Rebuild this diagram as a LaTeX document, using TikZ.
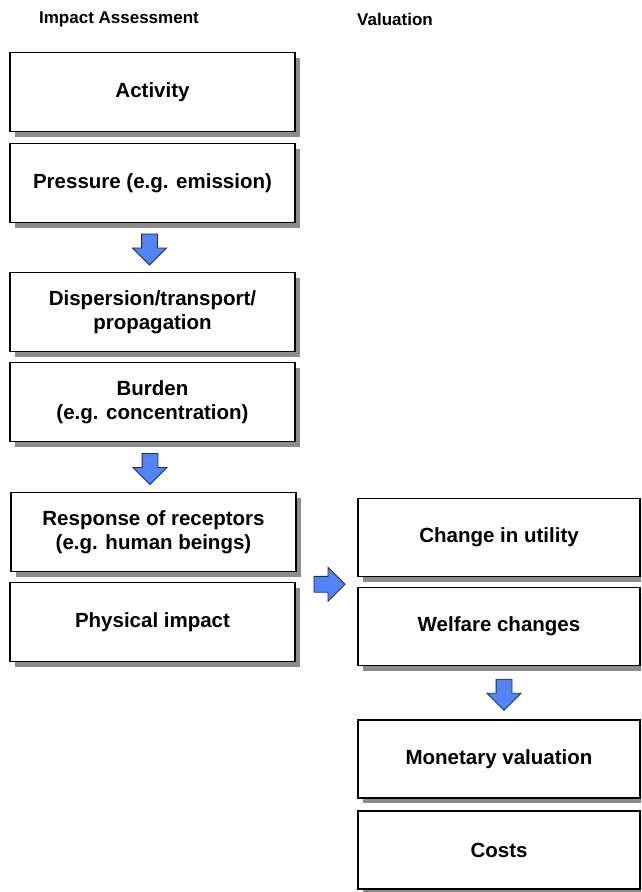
\documentclass[tikz,border=0pt]{standalone}
\usepackage{fontspec}
\setmainfont{Liberation Sans}
\usetikzlibrary{shapes.arrows, shadows, calc}

\definecolor{arrowblue}{RGB}{82,132,245}
\definecolor{arrowedge}{RGB}{30,40,90}

\tikzset{
  stage/.style={draw, line width=1.5pt, fill=white, align=center, inner sep=0pt,
    font=\fontsize{20.5}{24}\selectfont\bfseries,
    drop shadow={shadow xshift=5pt, shadow yshift=-5pt, fill=black!45, opacity=1}},
  leftstage/.style={stage, minimum width=285pt, minimum height=79pt},
  rightstage/.style={stage, minimum width=282pt, minimum height=78pt},
  heading/.style={font=\fontsize{17}{20}\selectfont\bfseries},
  flow/.style={single arrow, draw=arrowedge, fill=arrowblue, line width=0.8pt,
    minimum height=31pt, inner xsep=0pt, inner ysep=7.5pt, single arrow head extend=9pt}
}

\begin{document}
\begin{tikzpicture}[x=1pt, y=1pt]
    \clip (0,0) rectangle (641,-892);

    % Headings
    \node[heading] (impacthead) at (119,-19) {Impact Assessment};
    \node[heading] (valuehead) at (395,-19) {Valuation};

    % Impact assessment chain
    \node[leftstage] (activity) at (152.5,-92) {Activity};
    \node[leftstage] (pressure) at (152.5,-183) {Pressure (e.g. emission)};
    \node[leftstage] (dispersion) at (152.5,-312) {Dispersion/transport/\\propagation};
    \node[leftstage] (burden) at (152.5,-402) {Burden\\(e.g. concentration)};
    \node[leftstage] (response) at (153.5,-532) {Response of receptors\\(e.g. human beings)};
    \node[leftstage] (physical) at (152.5,-622) {Physical impact};

    % Valuation chain
    \node[rightstage] (utility) at (499,-537.5) {Change in utility};
    \node[rightstage] (welfare) at (499,-626.5) {Welfare changes};
    \node[rightstage] (monetary) at (499,-759) {Monetary valuation};
    \node[rightstage] (costs) at (499,-850) {Costs};

    % Block arrows
    \node[flow, rotate=-90] (flowa) at ($(pressure.south)!0.5!(dispersion.north)+(-3,2)$) {};
    \node[flow, rotate=-90] (flowb) at ($(burden.south)!0.5!(response.north)+(-3,2)$) {};
    \node[flow] (flowc) at ($(physical.north east)!0.5!(welfare.north west)+(-1,0)$) {};
    \node[flow, rotate=-90] (flowd) at ($(welfare.south)!0.5!(monetary.north)+(5,2)$) {};

\end{tikzpicture}
\end{document}
